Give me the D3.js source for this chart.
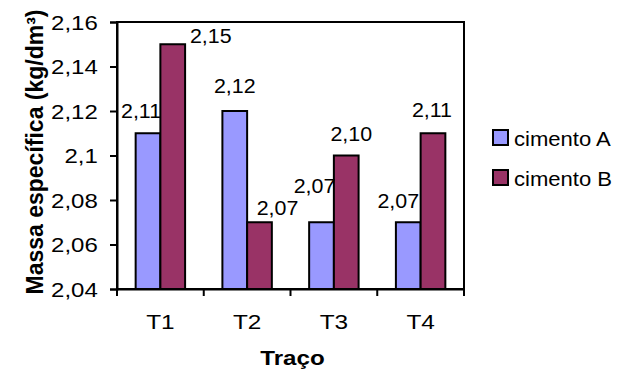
<!DOCTYPE html>
<html><head><meta charset="utf-8">
<script src="https://cdn.jsdelivr.net/npm/d3@7"></script>
<style>body{margin:0;background:#fff}svg{display:block}text{font-family:"Liberation Sans",Arial,sans-serif;fill:#000}</style>
</head><body><svg id="c" width="624" height="383"></svg>
<script>
const categories = ["T1", "T2", "T3", "T4"];
const seriesNames = ["cimento A", "cimento B"];
const cimentoA = [2.11, 2.12, 2.07, 2.07];
const cimentoB = [2.15, 2.07, 2.10, 2.11];
const yTicks = [2.04, 2.06, 2.08, 2.10, 2.12, 2.14, 2.16];
const yTitle = "Massa específica (kg/dm³)";
const xTitle = "Traço";

const colors = ["#9999FF", "#993366"];
const series = [cimentoA, cimentoB];
// label nudges (layout only) [dx, dy] relative to bar top-center
const labelNudge = [[[-7,-15],[38,-1]],[[0,-18],[18,-7]],[[-7,-29],[5,-15]],[[-10,-14],[-1,-16]]];

const svg = d3.select("#c");
const L = 117, R = 464, T = 22, B = 289;
const x = d3.scaleBand().domain(categories).range([L, R]).padding(0);
const xs = d3.scaleBand().domain(seriesNames).range([x.bandwidth()*0.215, x.bandwidth()*0.785]).padding(0);
const y = d3.scaleLinear().domain([2.04, 2.16]).range([B, T]);
const fmt = v => d3.format(".2f")(v).replace(".", ",");
const tickFmt = v => String(+v.toFixed(2)).replace(".", ",");
const FF = '"Liberation Sans",Arial,sans-serif';

function stretchedText(px, py, sx, str, size, anchor, weight) {
  return svg.append("text").attr("transform", `translate(${px},${py}) scale(${sx},1)`)
    .attr("text-anchor", anchor || "start").style("font-size", size + "px")
    .style("font-weight", weight || "normal").text(str);
}

// bars
categories.forEach((c, i) => {
  series.forEach((s, j) => {
    svg.append("rect")
      .attr("x", x(c) + xs(seriesNames[j]))
      .attr("y", y(s[i]))
      .attr("width", xs.bandwidth())
      .attr("height", y(2.04) - y(s[i]))
      .attr("fill", colors[j]).attr("stroke", "#000").attr("stroke-width", 2);
  });
});

// frame
svg.append("rect").attr("x", L).attr("y", T).attr("width", R-L).attr("height", B-T)
  .attr("fill", "none").attr("stroke", "#000").attr("stroke-width", 2);

// y axis
const ya = svg.append("g").attr("transform", `translate(${L},0)`)
  .call(d3.axisLeft(y).tickValues(yTicks).tickSize(7).tickPadding(9).tickFormat(tickFmt));
ya.select(".domain").attr("stroke-width", 2);
ya.selectAll(".tick line").attr("stroke-width", 2);
ya.selectAll(".tick text").style("font-size", "20px").style("font-family", FF)
  .attr("dy", "0.36em").attr("fill", "#000").attr("transform", "scale(1.2,1)");

// x axis
const xa = svg.append("g").attr("transform", `translate(0,${B})`)
  .call(d3.axisBottom(x).tickSize(0).tickPadding(26));
xa.select(".domain").attr("stroke-width", 2);
xa.selectAll(".tick text").style("font-size", "20px").style("font-family", FF).attr("fill", "#000")
  .attr("transform", "scale(1.22,1)");
// boundary tick marks
const bounds = categories.map(c => x(c)).concat([x(categories[categories.length-1]) + x.bandwidth()]);
svg.selectAll(".xb").data(bounds).enter().append("line")
  .attr("x1", d => d).attr("x2", d => d).attr("y1", B).attr("y2", B + 7)
  .attr("stroke", "#000").attr("stroke-width", 2);

// value labels
categories.forEach((c, i) => {
  series.forEach((s, j) => {
    const cx = x(c) + xs(seriesNames[j]) + xs.bandwidth()/2;
    stretchedText(cx + labelNudge[i][j][0], y(s[i]) + labelNudge[i][j][1], 1.07, fmt(s[i]), 20, "middle");
  });
});

// titles
stretchedText((L+R)/2 + 2, 365, 1.15, xTitle, 21, "middle", "bold");
svg.append("text").attr("transform", `translate(43,${(8+296)/2}) rotate(-90)`).attr("text-anchor", "middle")
  .style("font-size", "23px").style("font-weight", "bold").text(yTitle);

// legend
seriesNames.forEach((n, j) => {
  const ly = 130 + j*40;
  svg.append("rect").attr("x", 493).attr("y", ly).attr("width", 15).attr("height", 15)
    .attr("fill", colors[j]).attr("stroke", "#000").attr("stroke-width", 2);
  stretchedText(514, ly + 16, 1.05, n, 21);
});
</script></body></html>
